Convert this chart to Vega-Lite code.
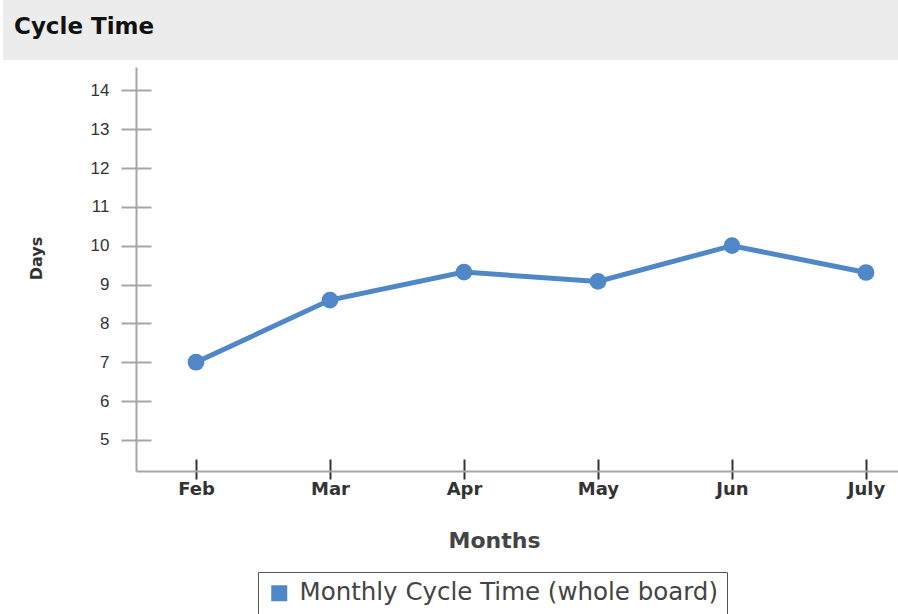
{
  "$schema": "https://vega.github.io/schema/vega-lite/v6.json",
  "padding": {"left": 3, "top": 0, "right": 0, "bottom": 0},
  "background": "white",
  "spacing": 7,
  "bounds": "flush",
  "config": {
    "view": {"stroke": null},
    "legend": {
      "title": null,
      "orient": "none",
      "legendX": 255,
      "legendY": 572,
      "direction": "horizontal",
      "symbolType": "square",
      "symbolSize": 256,
      "symbolStrokeWidth": 0,
      "symbolFillColor": "#5f93cf",
      "labelFont": "DejaVu Sans",
      "labelFontSize": 24.5,
      "labelColor": "#444444",
      "labelOffset": 8,
      "labelLimit": 700,
      "padding": 9,
      "strokeColor": "#555555",
      "fillColor": "white"
    }
  },
  "datasets": {
    "header": [{"label": "Cycle Time"}],
    "cycle": [
      {"month": "Feb", "days": 7.0, "series": "Monthly Cycle Time (whole board)"},
      {"month": "Mar", "days": 8.6, "series": "Monthly Cycle Time (whole board)"},
      {"month": "Apr", "days": 9.32, "series": "Monthly Cycle Time (whole board)"},
      {"month": "May", "days": 9.08, "series": "Monthly Cycle Time (whole board)"},
      {"month": "Jun", "days": 10.0, "series": "Monthly Cycle Time (whole board)"},
      {"month": "July", "days": 9.31, "series": "Monthly Cycle Time (whole board)"}
    ]
  },
  "vconcat": [
    {
      "width": 895,
      "height": 60,
      "data": {"name": "header"},
      "view": {"fill": "#ececec", "stroke": null},
      "title": {
        "text": "Cycle Time",
        "anchor": "start",
        "frame": "group",
        "orient": "top",
        "offset": -57,
        "baseline": "alphabetic",
        "dx": 11,
        "font": "DejaVu Sans",
        "fontSize": 23,
        "fontWeight": "bold",
        "color": "#111111"
      },
      "mark": {"type": "rect", "color": "#ececec"},
      "encoding": {}
    },
    {
      "width": 895,
      "height": 404,
      "data": {"name": "cycle"},
      "layer": [
        {
          "mark": {"type": "line", "strokeWidth": 5, "color": "#4f87c7"},
          "encoding": {
            "x": {
              "field": "month",
              "type": "ordinal",
              "sort": ["Feb", "Mar", "Apr", "May", "Jun", "July"],
              "scale": {"type": "point", "range": [133, 895], "padding": 0.3433, "align": 0.652},
              "axis": {
                "orient": "bottom",
                "domain": false,
                "grid": false,
                "ticks": true,
                "tickSize": 20,
                "tickWidth": 2,
                "tickColor": "#333333",
                "offset": -12,
                "labelFont": "DejaVu Sans",
                "labelFontSize": 18,
                "labelFontWeight": "bold",
                "labelColor": "#333333",
                "labelPadding": 1,
                "labelAngle": 0,
                "title": "Months",
                "titleFont": "DejaVu Sans",
                "titleFontSize": 22,
                "titleFontWeight": "bold",
                "titleColor": "#444444",
                "titleX": 491,
                "titleY": 88,
                "titleBaseline": "alphabetic",
                "titleAlign": "center"
              }
            },
            "y": {
              "field": "days",
              "type": "quantitative",
              "scale": {"domain": [4.2, 14.6], "nice": false, "zero": false},
              "axis": {
                "orient": "left",
                "domain": false,
                "grid": false,
                "values": [5, 6, 7, 8, 9, 10, 11, 12, 13, 14],
                "tickSize": 30,
                "tickWidth": 2,
                "tickColor": "#a6a6a6",
                "offset": -148,
                "labelFont": "Liberation Sans",
                "labelFontSize": 17,
                "labelColor": "#333333",
                "labelPadding": 12,
                "title": "Days",
                "titleFont": "DejaVu Sans",
                "titleFontSize": 16,
                "titleFontWeight": "bold",
                "titleColor": "#333333",
                "titleX": -115,
                "titleY": 191,
                "titleAngle": -90,
                "titleAlign": "center",
                "titleBaseline": "middle"
              }
            },
            "color": {"field": "series", "type": "nominal", "scale": {"range": ["#4f87c7"]}}
          }
        },
        {
          "mark": {"type": "point", "filled": true, "size": 280, "opacity": 1},
          "encoding": {
            "x": {
              "field": "month",
              "type": "ordinal",
              "sort": ["Feb", "Mar", "Apr", "May", "Jun", "July"],
              "axis": {
                "orient": "bottom",
                "domain": true,
                "domainColor": "#a6a6a6",
                "domainWidth": 2,
                "ticks": false,
                "labels": false,
                "grid": false,
                "title": null,
                "offset": 0
              }
            },
            "y": {
              "field": "days",
              "type": "quantitative",
              "axis": {
                "orient": "left",
                "domain": true,
                "domainColor": "#a6a6a6",
                "domainWidth": 2,
                "ticks": false,
                "labels": false,
                "grid": false,
                "title": null,
                "offset": -133
              }
            },
            "color": {"field": "series", "type": "nominal"}
          }
        }
      ],
      "resolve": {"axis": {"x": "independent", "y": "independent"}}
    }
  ]
}
